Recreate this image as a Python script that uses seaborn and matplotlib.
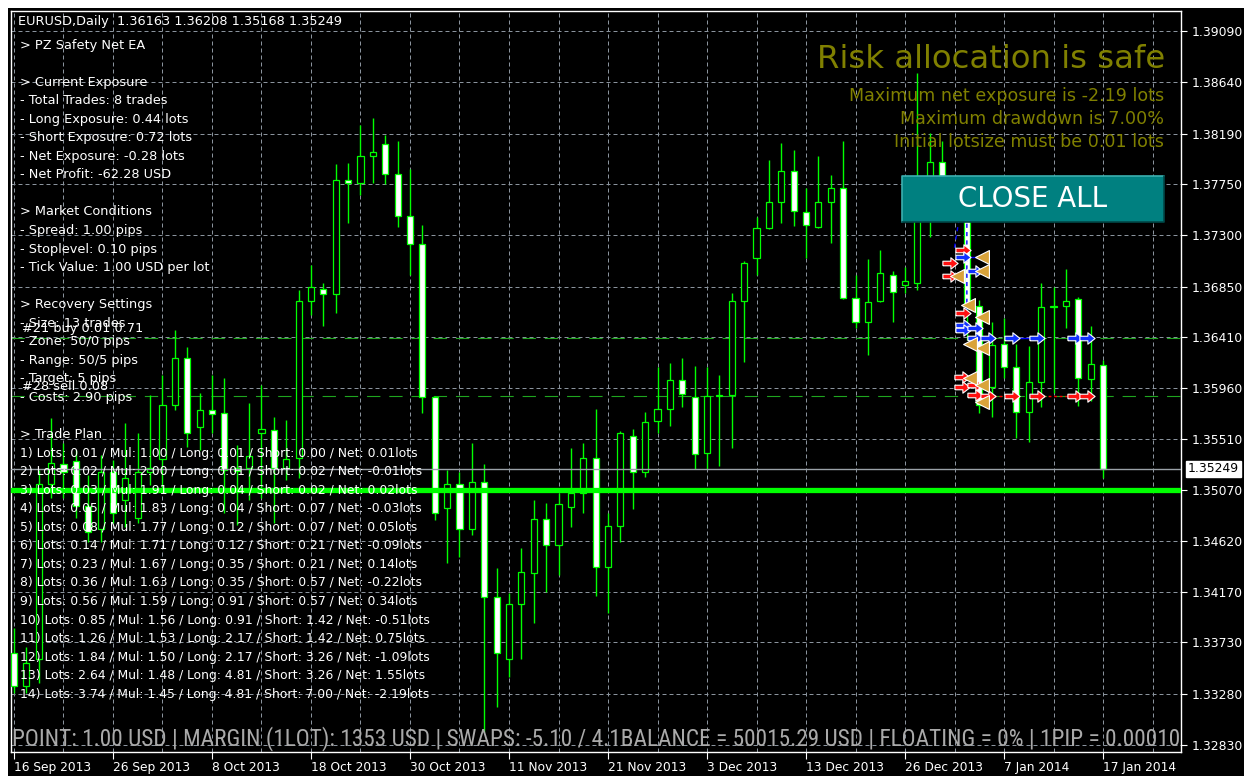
import numpy as np
import matplotlib
matplotlib.use("Agg")
import matplotlib.pyplot as plt
from matplotlib.patches import Rectangle
from matplotlib.lines import Line2D
from matplotlib import font_manager
import seaborn as sns

W, H = 1244, 776

# ---------------- data ----------------
date_labels = ["16 Sep 2013", "26 Sep 2013", "8 Oct 2013", "18 Oct 2013", "30 Oct 2013",
               "11 Nov 2013", "21 Nov 2013", "3 Dec 2013", "13 Dec 2013", "26 Dec 2013",
               "7 Jan 2014", "17 Jan 2014"]
date_label_bars = [0, 8, 16, 24, 32, 40, 48, 56, 64, 72, 80, 88]

opens = [1.3364, 1.3335, 1.3358, 1.3512, 1.3529, 1.3532, 1.3493, 1.3472, 1.3522, 1.3498,
         1.3482, 1.3522, 1.3534, 1.3581, 1.3622, 1.3562, 1.3577, 1.3574, 1.3526, 1.3526,
         1.3557, 1.3559, 1.3526, 1.3535, 1.3672, 1.3683, 1.3678, 1.3778, 1.3776, 1.3799,
         1.3810, 1.3784, 1.3747, 1.3722, 1.3588, 1.3491, 1.3512, 1.3472, 1.3514, 1.3413,
         1.3358, 1.3407, 1.3434, 1.3481, 1.3458, 1.3492, 1.3504, 1.3535, 1.3439, 1.3475,
         1.3554, 1.3522, 1.3567, 1.3578, 1.3603, 1.3588, 1.3539, 1.3589, 1.3590, 1.3672,
         1.3710, 1.3736, 1.3759, 1.3786, 1.3750, 1.3737, 1.3759, 1.3771, 1.3675, 1.3654,
         1.3672, 1.3695, 1.3686, 1.3688, 1.3756, 1.3794, 1.3765, 1.3768, 1.3668, 1.3597,
         1.3635, 1.3614, 1.3575, 1.3601, 1.3667, 1.3668, 1.3674, 1.3604, 1.36163]
highs = [1.3386, 1.3369, 1.3524, 1.3570, 1.3548, 1.3542, 1.3520, 1.3537, 1.3533, 1.3565,
         1.3557, 1.3590, 1.3607, 1.3647, 1.3632, 1.3592, 1.3607, 1.3605, 1.3546, 1.3583,
         1.3599, 1.3571, 1.3568, 1.3682, 1.3704, 1.3688, 1.3792, 1.3793, 1.3827, 1.3833,
         1.3818, 1.3813, 1.3788, 1.3739, 1.3589, 1.3524, 1.3522, 1.3548, 1.3529, 1.3438,
         1.3416, 1.3456, 1.3498, 1.3495, 1.3504, 1.3543, 1.3548, 1.3578, 1.3486, 1.3558,
         1.3560, 1.3575, 1.3614, 1.3618, 1.3622, 1.3615, 1.3614, 1.3607, 1.3679, 1.3707,
         1.3746, 1.3796, 1.3811, 1.3805, 1.3771, 1.3799, 1.3783, 1.3813, 1.3695, 1.3709,
         1.3717, 1.3699, 1.3702, 1.3872, 1.3820, 1.3813, 1.3774, 1.3774, 1.3673, 1.3654,
         1.3657, 1.3635, 1.3633, 1.3688, 1.3685, 1.3700, 1.3676, 1.3650, 1.36208]
lows = [1.3329, 1.3329, 1.3337, 1.3500, 1.3500, 1.3482, 1.3461, 1.3461, 1.3478, 1.3474,
        1.3478, 1.3511, 1.3507, 1.3577, 1.3544, 1.3542, 1.3557, 1.3486, 1.3476, 1.3498,
        1.3500, 1.3478, 1.3515, 1.3517, 1.3660, 1.3650, 1.3662, 1.3741, 1.3765, 1.3776,
        1.3775, 1.3737, 1.3695, 1.3574, 1.3480, 1.3443, 1.3448, 1.3467, 1.3294, 1.3316,
        1.3343, 1.3358, 1.3390, 1.3417, 1.3432, 1.3474, 1.3486, 1.3414, 1.3399, 1.3461,
        1.3490, 1.3518, 1.3557, 1.3563, 1.3579, 1.3525, 1.3525, 1.3528, 1.3543, 1.3619,
        1.3695, 1.3735, 1.3741, 1.3738, 1.3710, 1.3736, 1.3723, 1.3674, 1.3649, 1.3625,
        1.3671, 1.3654, 1.3679, 1.3682, 1.3728, 1.3748, 1.3761, 1.3638, 1.3574, 1.3571,
        1.3605, 1.3552, 1.3549, 1.3579, 1.3592, 1.3649, 1.3580, 1.3585, 1.35168]
closes = [1.3335, 1.3355, 1.3512, 1.3530, 1.3522, 1.3493, 1.3470, 1.3522, 1.3486, 1.3517,
          1.3522, 1.3526, 1.3581, 1.3622, 1.3557, 1.3577, 1.3573, 1.3524, 1.3523, 1.3536,
          1.3560, 1.3526, 1.3534, 1.3672, 1.3685, 1.3678, 1.3778, 1.3776, 1.3799, 1.3803,
          1.3784, 1.3747, 1.3722, 1.3588, 1.3486, 1.3512, 1.3472, 1.3514, 1.3413, 1.3364,
          1.3407, 1.3435, 1.3481, 1.3458, 1.3494, 1.3504, 1.3535, 1.3439, 1.3475, 1.3557,
          1.3522, 1.3566, 1.3578, 1.3603, 1.3591, 1.3538, 1.3589, 1.3590, 1.3672, 1.3706,
          1.3736, 1.3759, 1.3786, 1.3751, 1.3739, 1.3759, 1.3771, 1.3675, 1.3654, 1.3671,
          1.3697, 1.3680, 1.3690, 1.3756, 1.3794, 1.3765, 1.3768, 1.3668, 1.3581, 1.3634,
          1.3614, 1.3575, 1.3601, 1.3667, 1.3668, 1.3672, 1.3605, 1.3617, 1.35249]

price_ticks = [1.39090, 1.38640, 1.38190, 1.37750, 1.37300, 1.36850, 1.36410, 1.35960,
               1.35510, 1.35070, 1.34620, 1.34170, 1.33730, 1.33280, 1.32830]
last_price = 1.35249
breakeven_level = 1.35070
buy_order_level = 1.3640
sell_order_level = 1.3589

# trade arrows (bar index, price)
buy_bar = [76.7, 77.65, 76.7, 76.7, 77.65, 77.65, 78.7, 80.65, 82.67, 85.7, 86.7]
buy_price = [1.3711, 1.3699, 1.3651, 1.3647, 1.3649, 1.3640, 1.3640, 1.3640, 1.3640, 1.3640, 1.3640]
sell_bar = [75.64, 75.64, 76.7, 76.7, 76.6, 76.6, 77.65, 77.65, 78.7, 80.65, 82.67, 85.7, 86.7]
sell_price = [1.3706, 1.3694, 1.3717, 1.3662, 1.3606, 1.3597, 1.3599, 1.3590, 1.3589, 1.3589,
              1.3589, 1.3589, 1.3589]
close_bar = [78.2, 78.2, 76.2, 77.1, 78.2, 78.2, 77.25, 77.25, 78.2, 78.2]
close_price = [1.3711, 1.3699, 1.3694, 1.3669, 1.3658, 1.3631, 1.3635, 1.3605, 1.3599, 1.3584]
buy_link_bars = [(76.7, 78.2), (77.65, 78.7), (80.65, 82.67)]
buy_link_prices = [1.3711, 1.3640, 1.3640]
sell_link_bars = [(78.7, 80.65), (82.67, 85.7)]
sell_link_prices = [1.3589, 1.3589]
dash_path_bars = [76.0, 76.6, 77.0, 77.0]
dash_path_prices = [1.3719, 1.3760, 1.3765, 1.3662]

title_text = "EURUSD,Daily  1.36163 1.36208 1.35168 1.35249"
info_lines = ["> PZ Safety Net EA", "", "> Current Exposure", "- Total Trades: 8 trades",
              "- Long Exposure: 0.44 lots", "- Short Exposure: 0.72 lots",
              "- Net Exposure: -0.28 lots", "- Net Profit: -62.28 USD", "",
              "> Market Conditions", "- Spread: 1.00 pips", "- Stoplevel: 0.10 pips",
              "- Tick Value: 1.00 USD per lot", "", "> Recovery Settings",
              "- Size: 13 trades", "- Zone: 50/0 pips", "- Range: 50/5 pips",
              "- Target: 5 pips", "- Costs: 2.90 pips", "", "> Trade Plan"]
plan_lots = [0.01, 0.02, 0.03, 0.05, 0.08, 0.14, 0.23, 0.36, 0.56, 0.85, 1.26, 1.84, 2.64, 3.74]
plan_mul = [1.00, 2.00, 1.91, 1.83, 1.77, 1.71, 1.67, 1.63, 1.59, 1.56, 1.53, 1.50, 1.48, 1.45]
plan_long = [0.01, 0.01, 0.04, 0.04, 0.12, 0.12, 0.35, 0.35, 0.91, 0.91, 2.17, 2.17, 4.81, 4.81]
plan_short = [0.00, 0.02, 0.02, 0.07, 0.07, 0.21, 0.21, 0.57, 0.57, 1.42, 1.42, 3.26, 3.26, 7.00]
plan_net = [0.01, -0.01, 0.02, -0.03, 0.05, -0.09, 0.14, -0.22, 0.34, -0.51, 0.75, -1.09, 1.55, -2.19]
order_labels = ["#21 buy 0.01 0.71", "#28 sell 0.08"]
risk_title = "Risk allocation is safe"
risk_lines = ["Maximum net exposure is -2.19 lots", "Maximum drawdown is 7.00%",
              "Initial lotsize must be 0.01 lots"]
button_text = "CLOSE ALL"
footer_text = ("POINT: 1.00 USD | MARGIN (1LOT): 1353 USD | SWAPS: -5.10 / 4.1BALANCE = "
               "50015.29 USD | FLOATING = 0% | 1PIP = 0.00010")

# ---------------- style ----------------
sns.set_theme(style="dark", rc={"axes.facecolor": "black", "figure.facecolor": "white"})
plt.rcParams['font.family'] = ['DejaVu Sans']
font_names = {f.name for f in font_manager.fontManager.ttflist}
condensed_names = {f.name for f in font_manager.fontManager.ttflist
                   if str(f.stretch).lower() in ('condensed', 'semi-condensed', 'extra-condensed')
                   or 'narrow' in f.name.lower() or 'condensed' in f.name.lower()}
footer_family = None
footer_stretch = 'normal'
for cand in ['Liberation Sans Narrow', 'Roboto Condensed', 'Open Sans Condensed',
             'Noto Sans Condensed', 'DejaVu Sans Condensed']:
    if cand in font_names:
        footer_family = cand
        break
if footer_family is None:
    for cand in ['DejaVu Sans', 'Noto Sans', 'Open Sans', 'Roboto']:
        if cand in condensed_names:
            footer_family = cand
            footer_stretch = 'condensed'
            break
if footer_family is None:
    footer_family = 'Lato' if 'Lato' in font_names else 'DejaVu Sans'

GREEN = '#00ff00'
GRID = '#8a939d'
SMALL = 9.3
PLAN = 8.95

fig = plt.figure(figsize=(W / 100, H / 100), dpi=100)
fig.patch.set_facecolor('white')
fig.add_artist(Rectangle((8 / W, 0), 1 - 8 / W, 1 - 8 / H, transform=fig.transFigure,
                         facecolor='black', edgecolor='none', zorder=-5))

ax = fig.add_axes([11 / W, 1 - 752 / H, 1170 / W, 741 / H])
ax.set_facecolor('black')
ax.set_xlim(-0.2424, 94.303)
ax.set_ylim(1.32769, 1.392654)

def fx(x):
    return x / W

def fy(y):
    return 1 - y / H

# grid
for b in range(0, 93, 4):
    ax.axvline(b, color=GRID, lw=0.72, ls=(0, (4, 3)), zorder=1)
for p in price_ticks:
    ax.axhline(p, color=GRID, lw=0.72, ls=(0, (4, 3)), zorder=1)

# order lines
for lvl in (buy_order_level, sell_order_level):
    ax.axhline(lvl, color='#1fa51f', lw=0.8, ls=(0, (12, 8)), zorder=2)

# candles
o = np.array(opens); h = np.array(highs); l = np.array(lows); c = np.array(closes)
x = np.arange(len(o))
bull = c >= o
lo = np.minimum(o, c)
ht = np.maximum(np.abs(c - o), 0.00001)
ax.vlines(x, l, h, color=GREEN, lw=1.0, zorder=3)
ax.bar(x[bull], ht[bull], bottom=lo[bull], width=0.5, facecolor='black',
       edgecolor=GREEN, linewidth=0.9, zorder=4)
ax.bar(x[~bull], ht[~bull], bottom=lo[~bull], width=0.5, facecolor='white',
       edgecolor=GREEN, linewidth=0.9, zorder=4)

# current price / breakeven
ax.axhline(last_price, color='#9aa1a8', lw=1.0, zorder=5)
ax.axhline(breakeven_level, color=GREEN, lw=3.8, zorder=6)

# trade links
for (b0, b1), p in zip(buy_link_bars, buy_link_prices):
    ax.plot([b0, b1], [p, p], color='#0000ff', lw=1.0, zorder=7)
for (b0, b1), p in zip(sell_link_bars, sell_link_prices):
    ax.plot([b0, b1], [p, p], color='#ff0000', lw=1.0, ls=(0, (2, 2)), zorder=7)
ax.plot(dash_path_bars, dash_path_prices, color='#0000ff', lw=1.0, ls=(0, (3, 3)), zorder=7)

arrow = [(-1, -0.3), (0.05, -0.3), (0.05, -0.75), (1, 0), (0.05, 0.75), (0.05, 0.3), (-1, 0.3), (-1, -0.3)]
sns.scatterplot(x=sell_bar, y=sell_price, ax=ax, marker=arrow, s=120, color='#ff1010',
                edgecolor='white', linewidth=0.8, zorder=8, legend=False)
sns.scatterplot(x=buy_bar, y=buy_price, ax=ax, marker=arrow, s=120, color='#1030ff',
                edgecolor='white', linewidth=0.8, zorder=8, legend=False)
sns.scatterplot(x=close_bar, y=close_price, ax=ax, marker='<', s=100, color='#d9a33a',
                edgecolor='white', linewidth=0.8, zorder=8, legend=False)

# axes decoration
for s in ax.spines.values():
    s.set_visible(True)
    s.set_color('white')
    s.set_linewidth(1.0)
ax.yaxis.tick_right()
ax.set_yticks(price_ticks, labels=[f"{p:.5f}" for p in price_ticks])
ax.set_xticks(date_label_bars, labels=date_labels)
for t in ax.get_xticklabels():
    t.set_horizontalalignment('left')
ax.tick_params(axis='y', which='both', left=False, right=True, labelleft=False, labelright=True,
               length=4, width=0.8, color='white', labelcolor='white', labelsize=8.9, pad=3.5,
               direction='out')
ax.tick_params(axis='x', which='both', bottom=True, length=5, width=0.8, color='white',
               labelcolor='white', labelsize=8.8, pad=1.5, direction='out')
ax.grid(False)
ax.set_xlabel('')
ax.set_ylabel('')

# last price box on the axis
fig.text(fx(1188), fy(469), f"{last_price:.5f}", color='black', fontsize=8.9, va='center', ha='left',
         bbox=dict(boxstyle='square,pad=0.15', facecolor='white', edgecolor='white'), zorder=20)

# left info text
fig.text(fx(18), fy(22), title_text, color='white', fontsize=SMALL, va='center', ha='left', zorder=20)
plan_lines = [f"{k + 1}) Lots: {a:.2f} / Mul: {m:.2f} / Long: {lg:.2f} / Short: {sh:.2f} / Net: {n:.2f}lots"
              for k, (a, m, lg, sh, n) in enumerate(zip(plan_lots, plan_mul, plan_long, plan_short, plan_net))]
for k, line in enumerate(info_lines):
    if line:
        fig.text(fx(20), fy(45 + 18.55 * k), line, color='white', fontsize=SMALL, va='center',
                 ha='left', zorder=20)
for k, line in enumerate(plan_lines):
    fig.text(fx(20), fy(45 + 18.55 * (k + len(info_lines))), line, color='white', fontsize=PLAN,
             va='center', ha='left', zorder=20)
fig.text(fx(22), fy(328), order_labels[0], color='white', fontsize=SMALL, va='center', ha='left', zorder=20)
fig.text(fx(22), fy(386), order_labels[1], color='white', fontsize=SMALL, va='center', ha='left', zorder=20)

renderer = fig.canvas.get_renderer()

def fit(t, width_px):
    w = t.get_window_extent(renderer).width
    t.set_fontsize(t.get_fontsize() * width_px / w)

# risk text
t = fig.text(fx(1165), fy(60), risk_title, color='#808000', fontsize=23, va='center', ha='right', zorder=20)
fit(t, 350)
fs_lines = 12.5
for k, line in enumerate(risk_lines):
    t = fig.text(fx(1164), fy(96 + 23 * k), line, color='#808000', fontsize=12.5, va='center',
                 ha='right', zorder=20)
    if k == 0:
        fit(t, 316)
        fs_lines = t.get_fontsize()
    else:
        t.set_fontsize(fs_lines)

# button
fig.add_artist(Rectangle((fx(902), fy(222)), (1164 - 902) / W, 46 / H, transform=fig.transFigure,
                         facecolor='#008080', edgecolor='none', zorder=15))
fig.add_artist(Line2D([fx(902), fx(902), fx(1164)], [fy(222), fy(176), fy(176)],
                      transform=fig.transFigure, color='#3cb0b0', lw=1.2, zorder=16))
fig.add_artist(Line2D([fx(902), fx(1164), fx(1164)], [fy(222), fy(222), fy(176)],
                      transform=fig.transFigure, color='#004848', lw=1.2, zorder=16))
t = fig.text(fx(1033), fy(199), button_text, color='white', fontsize=20, va='center', ha='center',
             zorder=17)
fit(t, 149)

# footer
t = fig.text(fx(12), fy(739), footer_text, color='#a9a9a9', fontsize=14, va='center', ha='left',
             family=[footer_family, 'DejaVu Sans'], fontstretch=footer_stretch, zorder=20)
fit(t, 1166)

fig.savefig('out.png', dpi=100, facecolor='white')
